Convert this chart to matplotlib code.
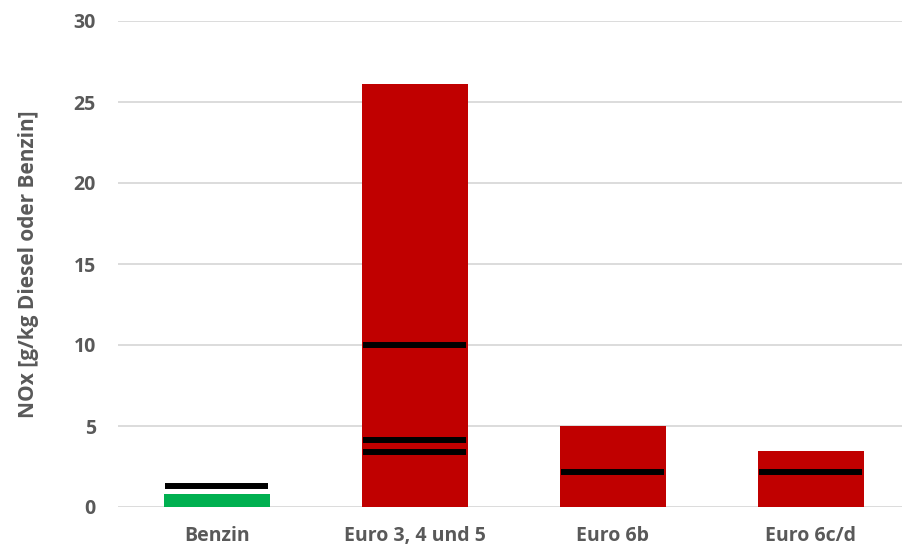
import matplotlib
matplotlib.use("Agg")
import matplotlib.pyplot as plt

categories = ["Benzin", "Euro 3, 4 und 5", "Euro 6b", "Euro 6c/d"]
bar_values = [0.8, 26.1, 5.0, 3.45]
bar_colors = ["#00b050", "#c00000", "#c00000", "#c00000"]
# reference markers drawn as black bars across each column
marker_values = [[1.3], [10.0, 4.15, 3.4], [2.15], [2.15]]
y_ticks = [0, 5, 10, 15, 20, 25, 30]

plt.rcParams["font.family"] = ["Open Sans", "DejaVu Sans"]
text_color = "#595959"

fig = plt.figure(figsize=(9.02, 5.46), dpi=100)
ax = fig.add_axes([118 / 902, 39 / 546, 1 - 118 / 902, (507 - 21) / 546])

x = list(range(len(categories)))
width = 0.535
ax.bar(x, bar_values, width=width, color=bar_colors, zorder=2)
for xi, vals in zip(x, marker_values):
    for v in vals:
        ax.hlines(v, xi - width / 2 + 0.005, xi + width / 2 - 0.01,
                  colors="black", linewidth=4.3, zorder=3)

ax.set_xlim(-0.5, 3.46)
ax.set_ylim(0, 30)
ax.set_yticks(y_ticks)
ax.set_xticks(x)
ax.set_xticklabels(categories)
ax.yaxis.grid(True, color="#d9d9d9", linewidth=1.3, zorder=0)
ax.set_axisbelow(True)
for s in ["top", "right", "left", "bottom"]:
    ax.spines[s].set_visible(False)
ax.tick_params(axis="both", length=0, labelsize=14, labelcolor=text_color)
ax.tick_params(axis="y", pad=16)
ax.tick_params(axis="x", pad=14)
for lab in ax.get_xticklabels() + ax.get_yticklabels():
    lab.set_fontweight("bold")
ax.set_ylabel("NOx [g/kg Diesel oder Benzin]", fontsize=15, fontweight="bold",
              color=text_color, labelpad=25)

fig.savefig("out.png", dpi=100)
